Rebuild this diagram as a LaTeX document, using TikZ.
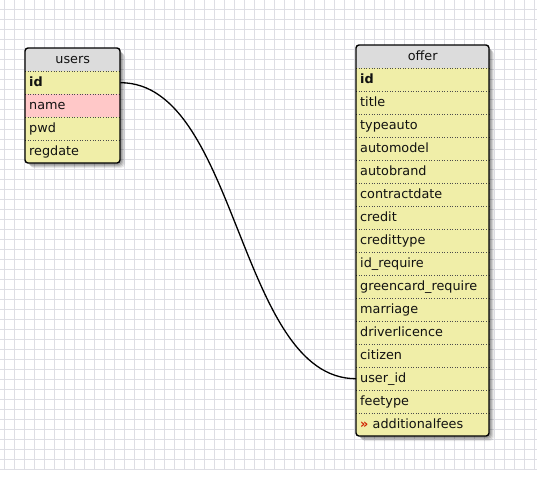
\documentclass[tikz,border=0pt]{standalone}
\usepackage{fontspec}
\setmainfont{DejaVu Sans}
\usetikzlibrary{calc}
\definecolor{gridc}{HTML}{DEDEE4}
\definecolor{rowc}{HTML}{F0EEA8}
\definecolor{hdrc}{HTML}{DCDCDC}
\definecolor{pinkc}{HTML}{FFC8C8}
\definecolor{txtc}{HTML}{111111}
\definecolor{redc}{HTML}{D02000}
\tikzset{
  cell/.style={rectangle, anchor=north west, inner ysep=0pt, inner xsep=4pt,
    minimum height=23pt, text height=9.3pt, text depth=2.7pt, align=left,
    font=\fontsize{12.8}{14}\selectfont, text=txtc},
  ucell/.style={cell, text width=87pt, fill=rowc},
  ocell/.style={cell, text width=125pt, fill=rowc},
  uhead/.style={ucell, fill=hdrc, align=center},
  ohead/.style={ocell, fill=hdrc, align=center},
  sep/.style={dotted, line width=0.6pt, draw=black!70},
  frame/.style={draw=black, line width=1.4pt, rounded corners=3pt},
  link/.style={draw=black, line width=1.3pt},
  gridline/.style={draw=gridc, line width=0.7pt},
}
\begin{document}
\begin{tikzpicture}[x=1pt, y=-1pt]
\useasboundingbox (0,0) rectangle (537,483);
\fill[white] (0,0) rectangle (537,483);
% grid
\foreach \gx in {4,14,...,534} { \draw[gridline] (\gx,0) -- (\gx,470); }
\foreach \gy in {9,19,...,469} { \draw[gridline] (0,\gy) -- (537,\gy); }
% shadows
\foreach \s/\o in {5/0.08,4/0.10,3/0.12,2/0.14} {
  \fill[black, opacity=\o, rounded corners=4pt] (25+\s,48+\s) rectangle (120+\s,163+\s);
  \fill[black, opacity=\o, rounded corners=4pt] (356+\s,45+\s) rectangle (489+\s,436+\s);
}
% users table
\begin{scope}
\clip[rounded corners=3pt] (25,48) rectangle (120,163);
\node[uhead] (uh) at (25,48) {users};
\node[ucell] (u1) at (25,71) {\textbf{id}};
\node[ucell, fill=pinkc] (u2) at (25,94) {name};
\node[ucell] (u3) at (25,117) {pwd};
\node[ucell] (u4) at (25,140) {regdate};
\end{scope}
\foreach \n in {uh,u1,u2,u3} { \draw[sep] (\n.south west) -- (\n.south east); }
\draw[frame] (25,48) rectangle (120,163);
% offer table
\begin{scope}
\clip[rounded corners=3pt] (356,45) rectangle (489,436);
\node[ohead] (oh) at (356,45) {offer};
\node[ocell] (o1) at (356,68) {\textbf{id}};
\node[ocell] (o2) at (356,91) {title};
\node[ocell] (o3) at (356,114) {typeauto};
\node[ocell] (o4) at (356,137) {automodel};
\node[ocell] (o5) at (356,160) {autobrand};
\node[ocell] (o6) at (356,183) {contractdate};
\node[ocell] (o7) at (356,206) {credit};
\node[ocell] (o8) at (356,229) {credittype};
\node[ocell] (o9) at (356,252) {id\_require};
\node[ocell] (o10) at (356,275) {greencard\_require};
\node[ocell] (o11) at (356,298) {marriage};
\node[ocell] (o12) at (356,321) {driverlicence};
\node[ocell] (o13) at (356,344) {citizen};
\node[ocell] (o14) at (356,367) {user\_id};
\node[ocell] (o15) at (356,390) {feetype};
\node[ocell] (o16) at (356,413) {{\color{redc}\textbf{»}} additionalfees};
\end{scope}
\foreach \n in {oh,o1,o2,o3,o4,o5,o6,o7,o8,o9,o10,o11,o12,o13,o14,o15} { \draw[sep] (\n.south west) -- (\n.south east); }
\draw[frame] (356,45) rectangle (489,436);
% connector
\draw[link] (u1.east) .. controls ($(u1.east)+(118,0)$) and ($(o14.west)+(-118,0)$) .. (o14.west);
\end{tikzpicture}
\end{document}
